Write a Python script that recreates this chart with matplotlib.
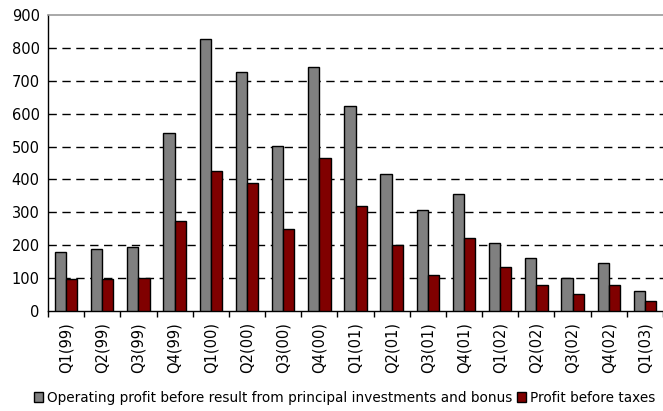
import numpy as np
import matplotlib
matplotlib.use("Agg")
import matplotlib.pyplot as plt

plt.rcParams['font.family'] = ['DejaVu Sans']

# quarters and the two series
quarters = ['Q1(99)', 'Q2(99)', 'Q3(99)', 'Q4(99)', 'Q1(00)', 'Q2(00)', 'Q3(00)', 'Q4(00)',
            'Q1(01)', 'Q2(01)', 'Q3(01)', 'Q4(01)', 'Q1(02)', 'Q2(02)', 'Q3(02)', 'Q4(02)', 'Q1(03)']
operating_profit = [178, 188, 196, 540, 828, 728, 503, 742,
                    622, 416, 306, 357, 206, 161, 101, 147, 60]
profit_before_taxes = [97, 97, 100, 273, 425, 388, 250, 466,
                       319, 201, 110, 221, 134, 78, 51, 78, 31]

fig = plt.figure(figsize=(6.63, 4.11), dpi=100)
ax = fig.add_axes([0.0724, 0.2433, 0.9276, 0.7202])

x = np.arange(len(quarters))
w = 0.31
ax.bar(x - w / 2, operating_profit, w, color='#808080', edgecolor='black', linewidth=1,
       label='Operating profit before result from principal investments and bonus', zorder=3)
ax.bar(x + w / 2, profit_before_taxes, w, color='#800000', edgecolor='black', linewidth=1,
       label='Profit before taxes', zorder=3)

ax.set_ylim(0, 900)
ax.set_xlim(-0.5, len(quarters) - 0.5)
ax.set_yticks(range(0, 901, 100))
ax.tick_params(axis='y', length=0, labelsize=10.5, pad=6)

# category ticks sit on the group boundaries, labels in the middle
ax.set_xticks(np.arange(len(quarters) + 1) - 0.5)
ax.set_xticklabels([])
ax.set_xticks(x, minor=True)
ax.set_xticklabels(quarters, minor=True, rotation=90, fontsize=10.5)
ax.tick_params(axis='x', which='major', direction='out', length=4, width=1)
ax.tick_params(axis='x', which='minor', length=0, pad=8)

for yv in range(100, 900, 100):
    ax.axhline(yv, color='black', linestyle=(0, (6, 4)), linewidth=1, zorder=1)

ax.spines['right'].set_visible(False)
ax.spines['top'].set_color('#999999')
ax.spines['top'].set_linewidth(1.2)
ax.spines['left'].set_linewidth(1)
ax.spines['bottom'].set_linewidth(1)

fig.legend(loc='lower center', bbox_to_anchor=(0.52, -0.015), ncol=2, frameon=False,
           fontsize=9.8, handlelength=0.7, handleheight=0.7, handletextpad=0.3, columnspacing=0.3)

fig.savefig('out.png', dpi=100)
